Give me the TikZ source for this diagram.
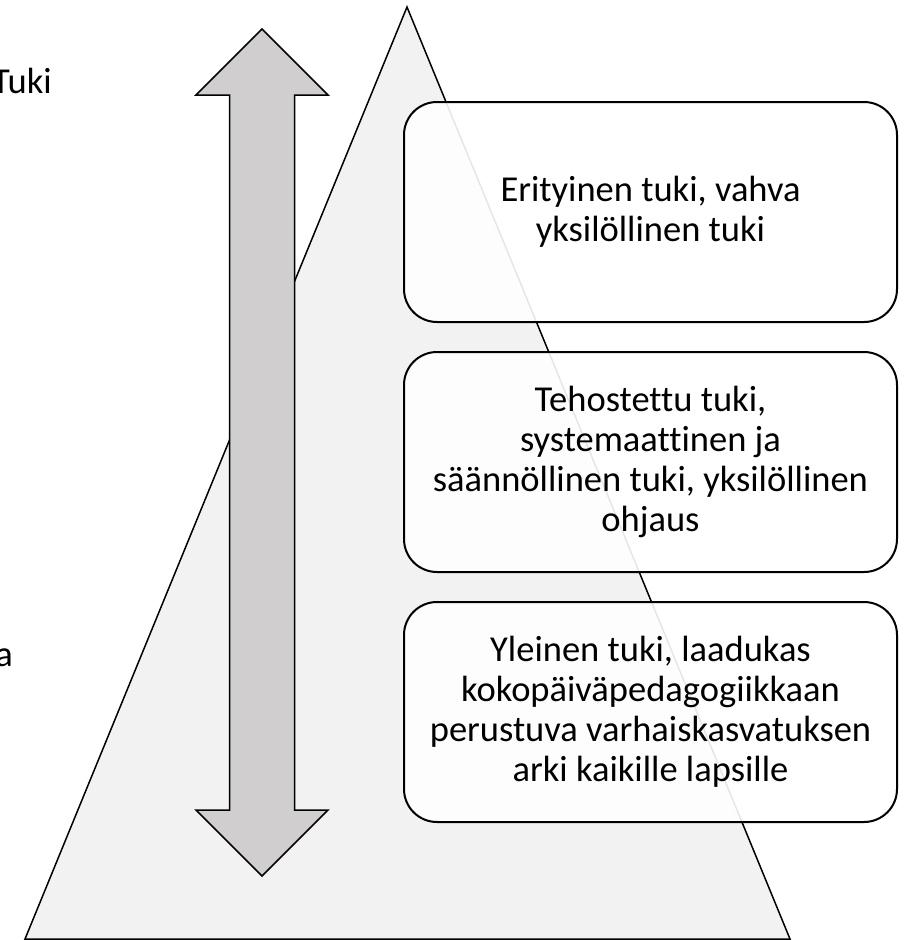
\documentclass[tikz,border=0pt]{standalone}
\usepackage{fontspec}
\setmainfont{Carlito}[Ligatures=NoCommon]
\usepackage{xcolor}
\usepackage{tikz}
\usetikzlibrary{positioning}
\definecolor{pale}{HTML}{F2F2F2}
\definecolor{stone}{HTML}{D0CECE}

\begin{document}
\begin{tikzpicture}[x=1pt,y=-1pt,
	line join=miter,
  tier/.style={draw,rounded corners=33pt,line width=2pt,fill=white,fill opacity=0.9,text opacity=1,
    minimum width=493pt,minimum height=220pt,align=center,inner sep=0pt},
  side/.style={anchor=base east,inner sep=0pt},
	font=\fontsize{36.5pt}{40pt}\selectfont]
  \useasboundingbox (0,0) rectangle (918,940);
  \clip (0,0) rectangle (918,940);
  \draw[fill=pale,line width=1.5pt] (407,7) -- (790,939) -- (25,939) -- cycle;
  \draw[fill=stone,line width=1.5pt] (262,29) -- (328,95) -- (294.5,95) -- (294.5,810)
    -- (328,810) -- (262,876) -- (196,810) -- (229.5,810) -- (229.5,95) -- (196,95) -- cycle;
  \node[tier] (special) at (650.5,212) {Erityinen tuki, vahva\\yksilöllinen tuki};
  \node[tier,below=28pt of special] (enhanced) {Tehostettu tuki,\\systemaattinen ja\\säännöllinen tuki, yksilöllinen\\ohjaus};
  \node[tier,below=28pt of enhanced] (general) {Yleinen tuki, laadukas\\kokopäiväpedagogiikkaan\\perustuva varhaiskasvatuksen\\arki kaikille lapsille};
  \node[side] (tuki) at (52,93) {Tuki};
  \node[side] (tail) at (13,666) {a};
\end{tikzpicture}
\end{document}
